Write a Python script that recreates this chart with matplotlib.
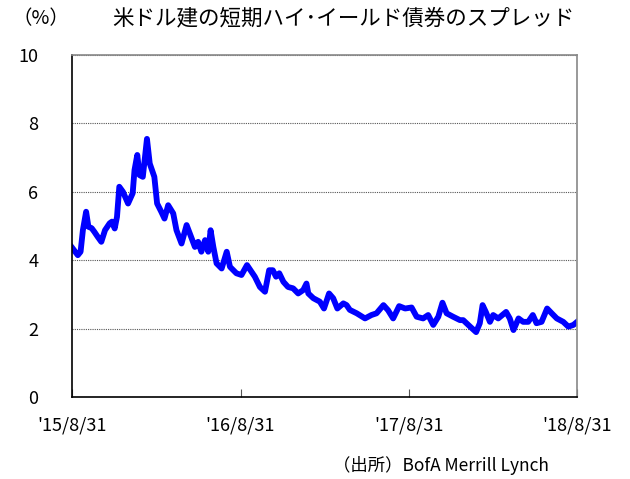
import numpy as np
import pandas as pd
import matplotlib
matplotlib.use('Agg')
import matplotlib.pyplot as plt

plt.rcParams['font.family'] = ['Noto Sans CJK JP', 'DejaVu Sans']

# days after 2015/8/31 and spread (%)
days = [0, 13, 19, 24, 31, 36, 43, 49, 56, 64, 72, 82, 87, 93, 98, 103, 111, 122,
        132, 136, 142, 147, 154, 163, 169, 179, 185, 194, 201, 209, 220, 227, 238,
        249, 260, 267, 274, 281, 289, 296, 301, 307, 314, 325, 336, 343, 357, 368,
        380, 390, 397, 408, 419, 428, 436, 443, 450, 459, 469, 480, 491, 502, 509,
        513, 524, 538, 547, 558, 567, 576, 589, 596, 603, 618, 636, 650, 661, 676,
        686, 697, 710, 723, 737, 748, 762, 773, 784, 795, 804, 813, 827, 842, 849,
        864, 877, 885, 891, 898, 907, 914, 925, 942, 950, 958, 969, 979, 990, 1000,
        1008, 1019, 1031, 1041, 1052, 1066, 1077, 1088, 1096]
spread = [4.38, 4.15, 4.25, 4.88, 5.42, 4.98, 4.94, 4.83, 4.69, 4.54, 4.88, 5.08,
          5.13, 4.93, 5.27, 6.15, 6.00, 5.66, 5.96, 6.64, 7.08, 6.49, 6.44, 7.55,
          6.83, 6.44, 5.66, 5.42, 5.22, 5.61, 5.37, 4.88, 4.49, 5.03, 4.64, 4.39,
          4.54, 4.25, 4.59, 4.25, 4.88, 4.39, 3.91, 3.76, 4.25, 3.81, 3.62, 3.57,
          3.86, 3.66, 3.52, 3.22, 3.08, 3.71, 3.71, 3.52, 3.62, 3.37, 3.22, 3.18,
          3.03, 3.13, 3.32, 3.03, 2.89, 2.79, 2.59, 3.03, 2.89, 2.59, 2.74, 2.69,
          2.55, 2.45, 2.30, 2.40, 2.45, 2.69, 2.54, 2.30, 2.66, 2.59, 2.62, 2.35,
          2.30, 2.40, 2.11, 2.35, 2.76, 2.45, 2.35, 2.25, 2.25, 2.06, 1.90, 2.16,
          2.69, 2.49, 2.20, 2.40, 2.30, 2.49, 2.30, 1.96, 2.30, 2.20, 2.20, 2.40,
          2.16, 2.20, 2.59, 2.45, 2.30, 2.20, 2.06, 2.11, 2.20]

start = pd.Timestamp('2015-08-31')
dates = start + pd.to_timedelta(days, unit='D')

tick_dates = [pd.Timestamp(d) for d in ['2015-08-31', '2016-08-31', '2017-08-31', '2018-08-31']]
tick_labels = ["'15/8/31", "'16/8/31", "'17/8/31", "'18/8/31"]

fig = plt.figure(figsize=(6.3, 4.79), dpi=100)
ax = fig.add_axes([0.114, 0.171, 0.802, 0.714])

ax.plot(dates, spread, color='#0000FF', linewidth=4.2, solid_joinstyle='round')

ax.set_xlim(tick_dates[0], tick_dates[-1])
ax.set_ylim(0, 10)
ax.set_yticks([0, 2, 4, 6, 8, 10])
ax.set_yticklabels(['0', '2', '4', '6', '8', '10'], fontsize=13)
ax.set_xticks(tick_dates)
ax.set_xticklabels(tick_labels, fontsize=13)
ax.tick_params(axis='x', direction='in', length=6, pad=14, color='#555555')
ax.tick_params(axis='y', length=0, pad=24)

ax.grid(axis='y', linestyle=(0, (1, 1)), color='#555555', linewidth=0.8)
ax.spines['left'].set_color('black')
ax.spines['bottom'].set_color('black')
ax.spines['top'].set_color('#888888')
ax.spines['right'].set_color('#888888')
for s in ax.spines.values():
    s.set_linewidth(1.2)

fig.text(0.065, 0.962, '（%）', fontsize=14, ha='center', va='center')
fig.text(0.545, 0.962, '米ドル建の短期ハイ･イールド債券のスプレッド', fontsize=15.5,
         ha='center', va='center')
fig.text(0.70, 0.028, '（出所）BofA Merrill Lynch', fontsize=12.5, ha='center', va='center')

plt.savefig('out.png', dpi=100)
